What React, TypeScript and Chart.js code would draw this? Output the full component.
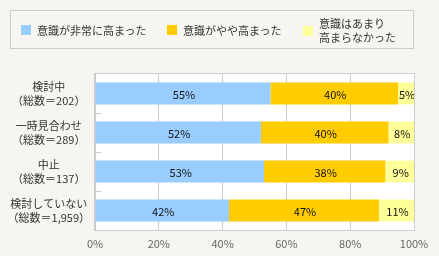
import React, { useEffect, useRef } from "react";
import { Chart, registerables } from "chart.js";
Chart.register(...registerables);

const categories: string[][] = [
  ["検討中", "（総数＝202）"],
  ["一時見合わせ", "（総数＝289）"],
  ["中止", "（総数＝137）"],
  ["検討していない", "（総数＝1,959）"],
];
const seriesNames = ["意識が非常に高まった", "意識がやや高まった", "意識はあまり高まらなかった"];
const highly = [55, 52, 53, 42];
const somewhat = [40, 40, 38, 47];
const notMuch = [5, 8, 9, 11];
const xTickStep = 20;
const xMax = 100;

const COLORS = ["#99ccff", "#ffcc00", "#ffff99"];
const FONT = "'Noto Sans CJK JP', 'Noto Sans', sans-serif";
const BG = "#f6f5ef";
const LINE = "#cccccc";

const areaPlugin = {
  id: "areaPlugin",
  beforeDraw(chart: any) {
    const { ctx, chartArea: a } = chart;
    ctx.save();
    ctx.fillStyle = "#ffffff";
    ctx.fillRect(a.left, a.top, a.right - a.left, a.bottom - a.top);
    ctx.restore();
  },
  afterDatasetsDraw(chart: any) {
    const { ctx, chartArea: a } = chart;
    const y = chart.scales.y;
    ctx.save();
    // data labels
    ctx.font = `11px ${FONT}`;
    ctx.fillStyle = "#111";
    ctx.textAlign = "center";
    ctx.textBaseline = "middle";
    chart.data.datasets.forEach((ds: any, di: number) => {
      const meta = chart.getDatasetMeta(di);
      meta.data.forEach((el: any, i: number) => {
        const cx = (el.x + el.base) / 2;
        ctx.fillText(`${ds.data[i]}%`, cx + 1, el.y + 1);
      });
    });
    // border
    ctx.strokeStyle = LINE;
    ctx.lineWidth = 1;
    ctx.strokeRect(Math.round(a.left) - 0.5, Math.round(a.top) - 0.5, Math.round(a.right - a.left) + 1, Math.round(a.bottom - a.top) + 1);
    // inner category ticks
    for (let i = 0; i < categories.length - 1; i++) {
      const yy = Math.round((y.getPixelForValue(i) + y.getPixelForValue(i + 1)) / 2) + 0.5;
      ctx.beginPath();
      ctx.moveTo(a.left, yy);
      ctx.lineTo(a.left + 6, yy);
      ctx.stroke();
    }
    ctx.restore();
  },
};

export default function App() {
  const ref = useRef<HTMLCanvasElement>(null);
  useEffect(() => {
    document.body.style.margin = "0";
    document.body.style.background = BG;
    const chart = new Chart(ref.current!, {
      type: "bar",
      data: {
        labels: categories,
        datasets: [highly, somewhat, notMuch].map((d, i) => ({
          label: seriesNames[i],
          data: d,
          backgroundColor: COLORS[i],
          borderWidth: 0,
          categoryPercentage: 1,
          barPercentage: 0.56,
        })),
      },
      options: {
        indexAxis: "y",
        responsive: false,
        animation: false,
        layout: { padding: { top: 74, right: 25, left: 0, bottom: 0 } },
        plugins: { legend: { display: false }, tooltip: { enabled: false } },
        scales: {
          x: {
            stacked: true,
            min: 0,
            max: xMax,
            ticks: {
              stepSize: xTickStep,
              callback: (v: any) => `${v}%`,
              color: "#666",
              font: { size: 11, family: FONT },
              padding: 7,
              maxRotation: 0,
            },
            grid: { color: LINE, drawTicks: false },
            border: { display: false },
            afterFit: (s: any) => {
              s.height = 26;
            },
          },
          y: {
            stacked: true,
            ticks: {
              crossAlign: "center",
              color: "#333",
              font: { size: 11, family: FONT, lineHeight: 14 / 11 },
              padding: 5,
            },
            grid: { display: false, drawTicks: false },
            border: { display: false },
            afterFit: (s: any) => {
              s.width = 95;
            },
          },
        },
      } as any,
      plugins: [areaPlugin],
    });
    return () => chart.destroy();
  }, []);

  const txt: React.CSSProperties = {
    position: "absolute",
    fontFamily: FONT,
    fontSize: 11,
    lineHeight: "14px",
    color: "#333",
    whiteSpace: "nowrap",
  };
  const sq = (left: number, top: number, c: string): React.CSSProperties => ({
    position: "absolute",
    left,
    top,
    width: 10,
    height: 10,
    background: c,
  });

  return (
    <div style={{ position: "fixed", left: 0, top: 0, width: 439, height: 256, background: BG }}>
      <canvas ref={ref} width={439} height={256} style={{ position: "absolute", left: 0, top: 0, display: "block" }} />
      <div
        style={{
          position: "absolute",
          left: 10,
          top: 10,
          width: 404,
          height: 39,
          boxSizing: "border-box",
          border: `1px solid ${LINE}`,
        }}
      />
      <div style={sq(21, 25, COLORS[0])} />
      <div style={{ ...txt, left: 37, top: 23 }}>{seriesNames[0]}</div>
      <div style={sq(167, 25, COLORS[1])} />
      <div style={{ ...txt, left: 183, top: 23 }}>{seriesNames[1]}</div>
      <div style={sq(303, 26, COLORS[2])} />
      <div style={{ ...txt, left: 319, top: 16 }}>
        意識はあまり
        <br />
        高まらなかった
      </div>
    </div>
  );
}
